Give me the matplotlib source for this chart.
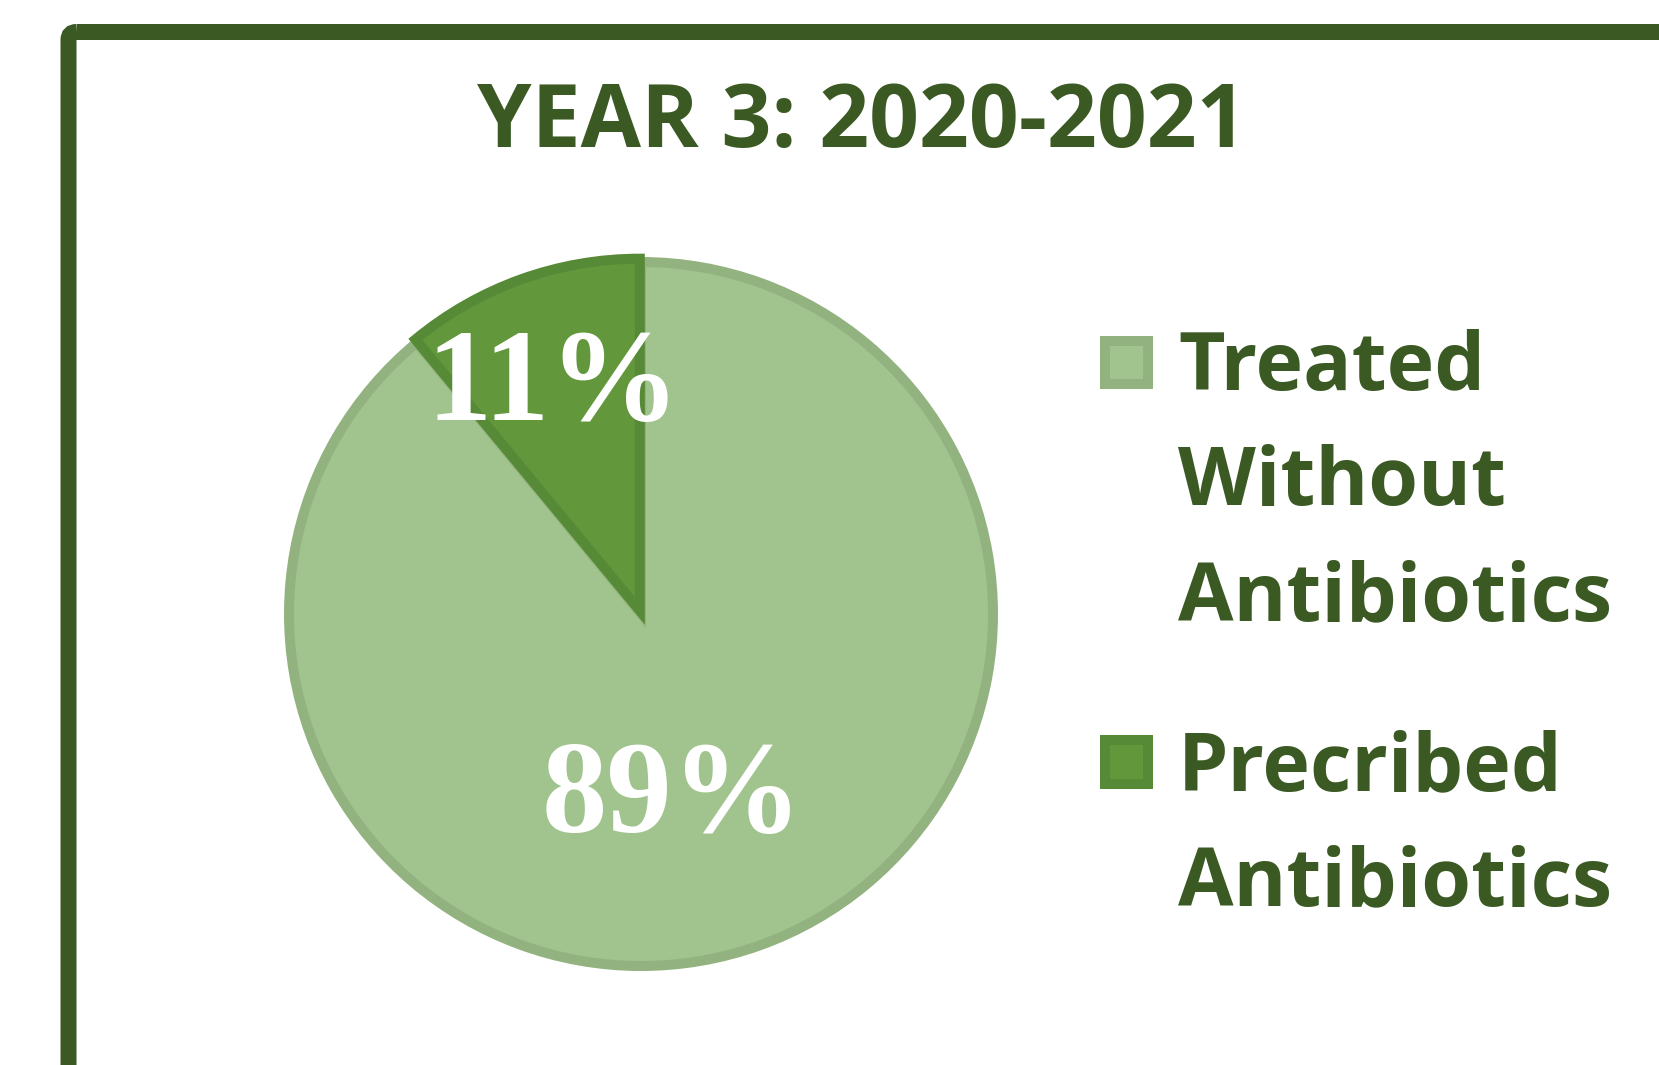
import matplotlib
matplotlib.use("Agg")
import matplotlib.pyplot as plt
from matplotlib.patches import FancyBboxPatch, Rectangle

# ---- data ----
title = "YEAR 3: 2020-2021"
categories = ["Treated\nWithout\nAntibiotics", "Precribed\nAntibiotics"]
values = [89, 11]
pct_labels = ["89%", "11%"]

fill_colors = ["#a1c48f", "#62973c"]
edge_colors = ["#92b37f", "#578a36"]
dark = "#3b5a23"

W, H = 1659, 1065
DPI = 100
fig = plt.figure(figsize=(W / DPI, H / DPI), dpi=DPI)
fig.patch.set_facecolor("white")

# pie axes
cx, cy, R = 641, 614, 352
half = 420
pax = fig.add_axes([(cx - half) / W, (H - cy - half) / H, 2 * half / W, 2 * half / H])
wedges, _ = pax.pie(values, startangle=90, counterclock=False, radius=1.0,
                    explode=[0, 0.01], colors=fill_colors,
                    wedgeprops=dict(linewidth=10 * 72 / DPI))
for w, ec in zip(wedges, edge_colors):
    w.set_edgecolor(ec)
pax.set_xlim(-half / R, half / R)
pax.set_ylim(-half / R, half / R)
pax.set_aspect("equal")
pax.axis("off")
pax.set_zorder(1)

# overlay axes in pixel coordinates
ov = fig.add_axes([0, 0, 1, 1])
ov.set_xlim(0, W)
ov.set_ylim(H, 0)
ov.axis("off")
ov.set_zorder(2)

frame = FancyBboxPatch((68.5, 32), 1800, 1200,
                       boxstyle="round,pad=0,rounding_size=8",
                       fill=False, edgecolor=dark, linewidth=16 * 72 / DPI)
ov.add_patch(frame)

ov.text(862, 124, title, ha="center", va="center", fontsize=63,
        fontweight="bold", color=dark, family="Open Sans")

# percentage labels
label_pos = [(672, 801), (553, 388)]
for (lx, ly), t in zip(label_pos, pct_labels):
    ov.text(lx, ly, t, ha="center", va="center", fontsize=94, fontweight="bold",
            color="white", family="Liberation Serif", zorder=5)

# legend (manual)
leg_rows = [(341, 384, 371), (740, 784, 771)]
for (y0, y1, ty), lab, fc, ec in zip(leg_rows, categories, fill_colors, edge_colors):
    ov.add_patch(Rectangle((1105, y0), 43, y1 - y0, facecolor=fc, edgecolor=ec,
                           linewidth=10 * 72 / DPI, zorder=4))
    ov.text(1178, ty - 42, lab, ha="left", va="top", fontsize=58, fontweight="bold",
            color=dark, family="Open Sans", linespacing=1.58)

fig.savefig("out.png", dpi=DPI)
